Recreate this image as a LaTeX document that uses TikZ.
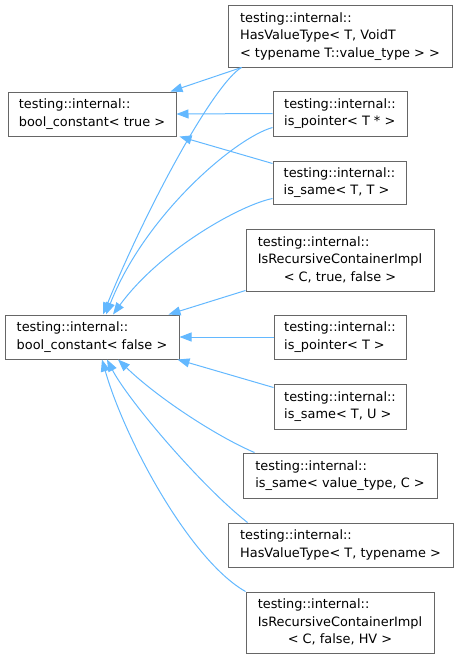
\documentclass[tikz,border=0pt]{standalone}
\usepackage{fontspec}
\setmainfont{DejaVu Sans}
\usetikzlibrary{arrows.meta,calc}
\definecolor{edgeblue}{HTML}{63B8FF}
\definecolor{boxgray}{HTML}{666666}
\newcommand{\cname}[1]{\begin{tabular}{@{}l@{}}#1\end{tabular}}
\newcommand{\lastc}[1]{\multicolumn{1}{@{}c@{}}{#1}}

\begin{document}
\begin{tikzpicture}[x=1pt,y=-1pt,
cls/.style={draw=boxgray,line width=1pt,fill=white,inner sep=0pt,
  font=\fontsize{12.9}{17.5}\selectfont},
inh/.style={draw=edgeblue,line width=1pt,
  {Triangle[length=12pt,width=9pt,fill=edgeblue]}-}]
\useasboundingbox (0,0) rectangle (458,659);
\node[cls,minimum width=168pt,minimum height=44pt] (T) at (92,114)
  {\cname{testing::internal::\\bool\_constant< true >}};
\node[cls,minimum width=174pt,minimum height=44pt] (F) at (92,337)
  {\cname{testing::internal::\\bool\_constant< false >}};
\node[cls,minimum width=224pt,minimum height=62pt] (HVT1) at (340,36)
  {\cname{testing::internal::\\HasValueType< T, VoidT\\< typename T::value\_type > >}};
\node[cls,minimum width=134pt,minimum height=45pt] (P1) at (340,113.5)
  {\cname{testing::internal::\\is\_pointer< T * >}};
\node[cls,minimum width=133pt,minimum height=43pt] (S1) at (339.5,182.5)
  {\cname{testing::internal::\\is\_same< T, T >}};
\node[cls,minimum width=188pt,minimum height=62pt] (R1) at (340,260)
  {\cname{testing::internal::\\IsRecursiveContainerImpl\\\lastc{< C, true, false >}}};
\node[cls,minimum width=132pt,minimum height=44pt] (P2) at (340,337)
  {\cname{testing::internal::\\is\_pointer< T >}};
\node[cls,minimum width=132pt,minimum height=45pt] (S2) at (340,406.5)
  {\cname{testing::internal::\\is\_same< T, U >}};
\node[cls,minimum width=194pt,minimum height=45pt] (S3) at (340,475.5)
  {\cname{testing::internal::\\is\_same< value\_type, C >}};
\node[cls,minimum width=225pt,minimum height=44pt] (H2) at (340.5,545)
  {\cname{testing::internal::\\HasValueType< T, typename >}};
\node[cls,minimum width=188pt,minimum height=61pt] (R2) at (340,622.5)
  {\cname{testing::internal::\\IsRecursiveContainerImpl\\\lastc{< C, false, HV >}}};

\draw[inh] ([xshift=-6pt]T.north east) -- ([xshift=14pt]HVT1.south west);
\draw[inh] (T.east) -- (P1.west);
\draw[inh] ([xshift=3pt]T.south east) -- ([yshift=-3pt]S1.north west);

\draw[inh] ([xshift=11pt]F.north) .. controls (150,200) and (215,83) .. ([xshift=14pt]HVT1.south west);
\draw[inh] ([xshift=14pt]F.north) .. controls (145,215) and (235,138) .. ([yshift=9pt]P1.south west);
\draw[inh] ([xshift=21pt]F.north) .. controls (160,250) and (240,205) .. ([yshift=6pt]S1.south west);
\draw[inh] ([xshift=-11pt]F.north east) -- ([yshift=1pt]R1.south west);
\draw[inh] (F.east) -- (P2.west);
\draw[inh] ([xshift=-2pt]F.south east) -- ([yshift=-4pt]S2.north west);
\draw[inh] ([xshift=26pt]F.south) .. controls (160,400) and (220,438) .. ([xshift=12pt]S3.north west);
\draw[inh] ([xshift=15pt]F.south) .. controls (128,400) and (200,485) .. ([xshift=20pt]H2.north west);
\draw[inh] ([xshift=10pt]F.south) .. controls (125,440) and (190,560) .. (R2.north west);
\end{tikzpicture}
\end{document}
